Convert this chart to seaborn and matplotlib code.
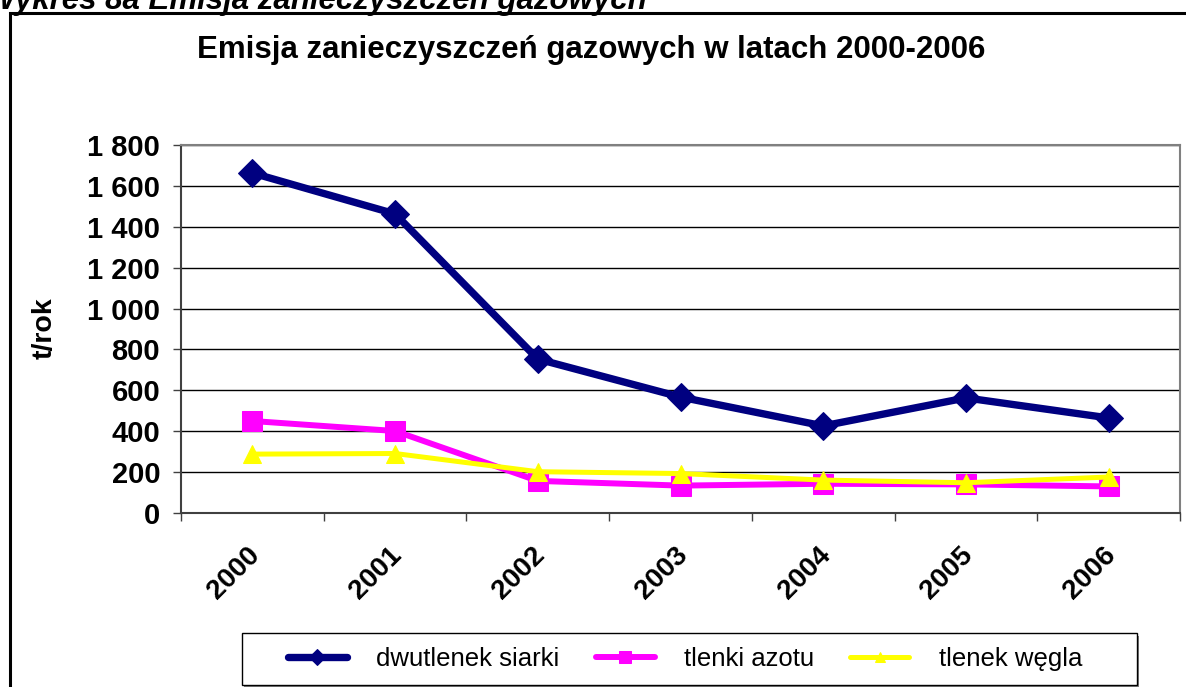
import matplotlib
matplotlib.use("Agg")
import numpy as np
import pandas as pd
import seaborn as sns
import matplotlib.pyplot as plt
from matplotlib.patches import Rectangle
from matplotlib.ticker import FuncFormatter, FixedLocator
from matplotlib.transforms import ScaledTranslation

# dane (t/rok)
lata = ['2000', '2001', '2002', '2003', '2004', '2005', '2006']
dwutlenek_siarki = [1663, 1463, 753, 567, 426, 563, 465]
tlenki_azotu = [450, 401, 157, 134, 143, 140, 130]
tlenek_wegla = [288, 291, 202, 193, 161, 148, 176]

df = pd.DataFrame({
    'rok': lata,
    'dwutlenek siarki': dwutlenek_siarki,
    'tlenki azotu': tlenki_azotu,
    'tlenek węgla': tlenek_wegla,
})

sns.set_style("white")
plt.rcParams['font.family'] = ['Liberation Sans', 'DejaVu Sans']
plt.rcParams['text.color'] = 'black'
plt.rcParams['xtick.labelcolor'] = 'black'
plt.rcParams['ytick.labelcolor'] = 'black'

W, H = 1186, 687
fig = plt.figure(figsize=(W / 100, H / 100), dpi=100)
ax = fig.add_axes([181 / W, 1 - 513 / H, (1180 - 181) / W, (513 - 145) / H])

# serie
sns.lineplot(data=df, x='rok', y='dwutlenek siarki', ax=ax, color='#000080',
             marker='D', markersize=14, markeredgecolor='#000080', linewidth=5.3,
             label='dwutlenek siarki', zorder=5)
sns.lineplot(data=df, x='rok', y='tlenki azotu', ax=ax, color='#FF00FF',
             marker='s', markersize=15, markeredgecolor='#FF00FF', linewidth=4.3,
             label='tlenki azotu', zorder=4)
sns.lineplot(data=df, x='rok', y='tlenek węgla', ax=ax, color='#FFFF00',
             marker='^', markersize=13, markeredgecolor='#FFFF00', linewidth=3.6,
             label='tlenek węgla', zorder=6)

ax.set_xlim(-0.5, len(lata) - 0.5)
ax.set_ylim(0, 1800)
ax.set_yticks(np.arange(0, 1801, 200))
ax.yaxis.set_major_formatter(FuncFormatter(lambda v, p: f"{int(v):,}".replace(',', ' ')))
ax.yaxis.grid(True, color='black', linewidth=1)
ax.set_axisbelow(True)

ax.set_xlabel('')
ax.set_ylabel('')
ax.tick_params(axis='y', which='major', left=True, direction='out', length=6,
               width=1, color='#404040', labelsize=21, pad=9, labelcolor='black')
for t in ax.get_yticklabels():
    t.set_fontweight('bold')

# etykiety lat miedzy znacznikami
ax.set_xticks(range(len(lata)))
ax.set_xticklabels(lata, rotation=45, ha='right', va='top', rotation_mode='anchor',
                   fontsize=20, fontweight='bold', color='black')
ax.tick_params(axis='x', which='major', length=0, pad=21)
shift = ScaledTranslation(-6 / 100, 0, fig.dpi_scale_trans)
for t in ax.get_xticklabels():
    t.set_transform(t.get_transform() + shift)
ax.xaxis.set_minor_locator(FixedLocator(np.arange(-0.5, len(lata), 1.0)))
ax.tick_params(axis='x', which='minor', bottom=True, direction='out', length=6,
               width=1, color='#404040')

for side in ['top', 'right']:
    ax.spines[side].set_color('#808080')
    ax.spines[side].set_linewidth(1.5)
for side in ['left', 'bottom']:
    ax.spines[side].set_color('#404040')
    ax.spines[side].set_linewidth(1.5)

# legenda w osobnej ramce z cieniem
ax.get_legend().remove()
handles, labels = ax.get_legend_handles_labels()
fig.patches.append(Rectangle((244 / W, 1 - 688 / H), 895 / W, 52 / H,
                             transform=fig.transFigure, facecolor='#808080',
                             edgecolor='none', zorder=1))
fig.patches.append(Rectangle((242 / W, 1 - 685 / H), 895 / W, 52 / H,
                             transform=fig.transFigure, facecolor='white',
                             edgecolor='black', linewidth=1, zorder=2))
leg = fig.legend(handles, labels, loc='center', bbox_to_anchor=(685 / W, 1 - 659 / H),
                 ncol=3, fontsize=18.5, frameon=False,
                 handlelength=2.3, handletextpad=1.15, columnspacing=1.4,
                 markerscale=0.6, borderpad=0.2)
leg.set_zorder(3)
for t in leg.get_texts():
    t.set_color('black')

# tytul wykresu i opis osi
fig.text(591 / W, 1 - 58 / H, 'Emisja zanieczyszczeń gazowych w latach 2000-2006',
         ha='center', va='baseline', fontsize=22.5, fontweight='bold', color='black')
fig.text(45 / W, 1 - 328 / H, 't/rok', rotation=90, ha='center', va='center',
         fontsize=20.5, fontweight='bold', color='black')

# podpis nad ramka (uciety u gory)
fig.text(-0.012, 1 - 9 / H, 'Wykres 8a Emisja zanieczyszczeń gazowych',
         ha='left', va='baseline', fontsize=22.5, fontweight='bold', style='italic',
         color='black')

# ramka obszaru wykresu
fig.patches.append(Rectangle((10 / W, -0.1), 1.2, 1 - 13 / H + 0.1,
                             transform=fig.transFigure, fill=False,
                             edgecolor='black', linewidth=2.2, zorder=0))

fig.savefig('out.png', dpi=100)
plt.close()
